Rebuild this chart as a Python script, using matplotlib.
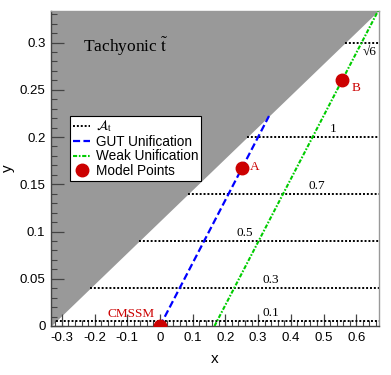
import numpy as np
import matplotlib
matplotlib.use("Agg")
import matplotlib.pyplot as plt
from matplotlib.ticker import MultipleLocator

# tachyonic boundary (x, y)
tach_x = [-1/3, 2/3]
tach_y = [0.0, 1/3]

# unification lines
gut_x = [0.0, 1/3]
gut_y = [0.0, 2/9]
weak_x = [1/6, 2/3]
weak_y = [0.0, 1/3]

# A_t contours: y level, label, label x
at_y = [0.005, 0.04, 0.09, 0.14, 0.2, 0.3]
at_lab = ["0.1", "0.3", "0.5", "0.7", "1", "\u221a6"]
at_lab_x = [0.34, 0.34, 0.26, 0.48, 0.53, 0.64]

# model points
pt_name = ["CMSSM", "A", "B"]
pt_x = [0.0, 0.25, 0.557]
pt_y = [0.0, 0.1667, 0.26]

red = "#cc0000"
plt.rcParams['font.family'] = ['Liberation Sans', 'DejaVu Sans']
plt.rcParams['mathtext.fontset'] = 'stix'

fig = plt.figure(figsize=(3.91, 3.75), dpi=100)
ax = fig.add_axes([0.1304, 0.1307, 0.8389, 0.84])

xlo, xhi = tach_x[0], tach_x[1] + 0.003
ax.fill_between([tach_x[0], tach_x[1]], tach_y, [1/3, 1/3], color="#999999", lw=0, zorder=1)

# contours start at the tachyonic boundary
for i in range(len(at_y)):
    x0 = np.interp(at_y[i], tach_y, tach_x)
    ax.plot([x0, xhi], [at_y[i], at_y[i]], color="black", ls=(0, (1, 1)), lw=1.4,
            zorder=2, label=r"$\mathcal{A}_{\rm t}$" if i == 0 else None)
    if i == len(at_y) - 1:
        ax.text(at_lab_x[i], at_y[i] - 0.003, at_lab[i], ha="center", va="top",
                fontsize=9.5, family="Liberation Serif")
    else:
        ax.text(at_lab_x[i], at_y[i] + 0.002, at_lab[i], ha="center", va="bottom",
                fontsize=9.5, family="Liberation Serif")

ax.plot(gut_x, gut_y, color="#0000ff", ls=(0, (3.2, 1.5)), lw=1.6, zorder=3, label="GUT Unification")
ax.plot(weak_x, weak_y, color="#00cc00", ls=(0, (2, 0.8, 0.8, 0.8)), lw=1.5, zorder=3, label="Weak Unification")
ax.plot(pt_x, pt_y, "o", color=red, ms=9, ls="none", zorder=4, label="Model Points")

ax.text(pt_x[0] - 0.015, pt_y[0] + 0.006, pt_name[0], color=red, ha="right", va="bottom",
        fontsize=9.5, family="Liberation Serif")
ax.text(pt_x[1] + 0.025, pt_y[1] + 0.002, pt_name[1], color=red, ha="left", va="center",
        fontsize=9.5, family="Liberation Serif")
ax.text(pt_x[2] + 0.028, pt_y[2] - 0.008, pt_name[2], color=red, ha="left", va="center",
        fontsize=9.5, family="Liberation Serif")

ax.text(-0.105, 0.296, r"Tachyonic $\tilde{\rm t}$", ha="center", va="center",
        fontsize=12.5, family="Liberation Serif")

ax.set_xlim(xlo, xhi)
ax.set_ylim(0, 0.3334)
ax.xaxis.set_major_locator(MultipleLocator(0.1))
ax.xaxis.set_minor_locator(MultipleLocator(0.02))
ax.yaxis.set_major_locator(MultipleLocator(0.05))
ax.yaxis.set_minor_locator(MultipleLocator(0.01))
fmt = plt.FuncFormatter(lambda v, p: "0" if abs(v) < 1e-9 else "%g" % round(v, 2))
ax.xaxis.set_major_formatter(fmt)
ax.yaxis.set_major_formatter(fmt)
ax.tick_params(which="both", direction="in", top=False, right=False, labelsize=9.5, color="#444444")
ax.tick_params(which="major", length=9, width=0.9, pad=4)
ax.tick_params(which="minor", length=4.5, width=0.8)
for s in ["left", "bottom"]:
    ax.spines[s].set_color("#444444")
    ax.spines[s].set_linewidth(1.0)
for s in ["right", "top"]:
    ax.spines[s].set_color("#999999")
    ax.spines[s].set_linewidth(1.0)

ax.set_xlabel("x", fontsize=11, labelpad=6)
ax.set_ylabel("y", fontsize=11, labelpad=3)

leg = ax.legend(loc="upper left", bbox_to_anchor=(0.058, 0.668), fontsize=9.8, frameon=True,
                fancybox=False, edgecolor="black", framealpha=1, borderpad=0.2,
                handlelength=1.3, handletextpad=0.4, labelspacing=0.05, borderaxespad=0)
leg.get_frame().set_linewidth(0.8)
leg.set_zorder(5)

fig.savefig("out.png", dpi=100)
